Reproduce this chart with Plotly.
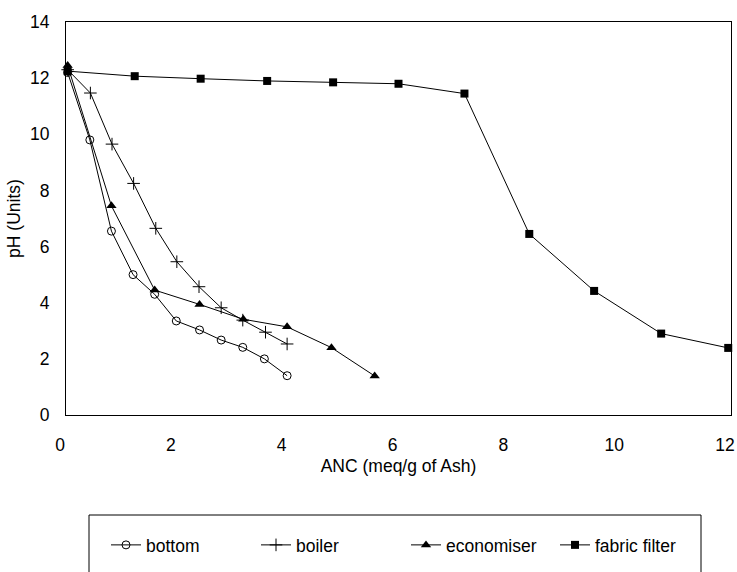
import plotly.graph_objects as go

# ---- data ----
bottom_x = [0.03, 0.43, 0.82, 1.21, 1.60, 1.99, 2.41, 2.80, 3.19, 3.58, 3.99]
bottom_y = [12.2, 9.8, 6.55, 5.0, 4.3, 3.35, 3.03, 2.67, 2.41, 2.0, 1.40]

boiler_x = [0.03, 0.44, 0.83, 1.22, 1.62, 2.00, 2.40, 2.80, 3.19, 3.60, 3.99]
boiler_y = [12.3, 11.47, 9.65, 8.25, 6.65, 5.46, 4.57, 3.82, 3.38, 2.95, 2.53]

econ_x = [0.03, 0.82, 1.60, 2.41, 3.20, 3.99, 4.79, 5.57]
econ_y = [12.45, 7.45, 4.45, 3.94, 3.41, 3.14, 2.40, 1.39]

fabric_x = [0.03, 1.24, 2.43, 3.63, 4.82, 6.00, 7.19, 8.36, 9.53, 10.74, 11.95]
fabric_y = [12.25, 12.07, 11.98, 11.90, 11.85, 11.80, 11.45, 6.45, 4.42, 2.90, 2.39]

x_ticks = [0, 2, 4, 6, 8, 10, 12]
y_ticks = [0, 2, 4, 6, 8, 10, 12, 14]

FONT = "Liberation Sans, Arial, sans-serif"
FS = 17.5
W, H = 737, 572
L, R, T, B = 66, 6, 22, 157
PW, PH = W - L - R, H - T - B


def px_to_paper_x(px):
    return (px - L) / PW


def px_to_paper_y(py):
    return (T + PH - py) / PH


fig = go.Figure()

fig.add_trace(go.Scatter(
    x=bottom_x, y=bottom_y, name="bottom", mode="lines+markers",
    line=dict(color="black", width=1),
    marker=dict(symbol="circle-open", size=8, color="black", line=dict(width=1)),
    legend="legend", cliponaxis=False))
fig.add_trace(go.Scatter(
    x=boiler_x, y=boiler_y, name="boiler", mode="lines+markers",
    line=dict(color="black", width=1),
    marker=dict(symbol="cross-thin", size=9, color="black", line=dict(width=1, color="black")),
    legend="legend2", cliponaxis=False))
fig.add_trace(go.Scatter(
    x=econ_x, y=econ_y, name="economiser", mode="lines+markers",
    line=dict(color="black", width=1),
    marker=dict(symbol="triangle-up", size=9, color="black"),
    legend="legend3", cliponaxis=False))
fig.add_trace(go.Scatter(
    x=fabric_x, y=fabric_y, name="fabric filter", mode="lines+markers",
    line=dict(color="black", width=1),
    marker=dict(symbol="square", size=8, color="black"),
    legend="legend4", cliponaxis=False))

leg_common = dict(orientation="h", xanchor="left", yanchor="middle",
                  bgcolor="rgba(0,0,0,0)", borderwidth=0,
                  font=dict(family=FONT, size=FS, color="black"))
leg_y = px_to_paper_y(545)

fig.update_layout(
    width=W, height=H,
    margin=dict(l=L, r=R, t=T, b=B, autoexpand=False),
    paper_bgcolor="white", plot_bgcolor="white",
    font=dict(family=FONT, size=FS, color="black"),
    showlegend=True,
    legend=dict(x=px_to_paper_x(106), y=leg_y, **leg_common),
    legend2=dict(x=px_to_paper_x(256), y=leg_y, **leg_common),
    legend3=dict(x=px_to_paper_x(406), y=leg_y, **leg_common),
    legend4=dict(x=px_to_paper_x(555), y=leg_y, **leg_common),
    xaxis=dict(range=[0, 12], tickvals=x_ticks, ticktext=[str(v) for v in x_ticks],
               showgrid=False, zeroline=False, showline=True, linecolor="black",
               linewidth=1, mirror=True, ticks="", ticklabelstandoff=14,
               ticklabelshift=-6,
               title=dict(text="ANC (meq/g of Ash)", standoff=5,
                          font=dict(family=FONT, size=FS))),
    yaxis=dict(range=[0, 14], tickvals=y_ticks, ticktext=[str(v) for v in y_ticks],
               showgrid=False, zeroline=False, showline=True, linecolor="black",
               linewidth=1, mirror=True, ticks="", ticklabelstandoff=12,
               title=dict(text="pH (Units)", standoff=4,
                          font=dict(family=FONT, size=FS))),
    shapes=[dict(type="rect", xref="paper", yref="paper",
                 x0=px_to_paper_x(89), x1=px_to_paper_x(701),
                 y0=px_to_paper_y(515), y1=px_to_paper_y(600),
                 line=dict(color="black", width=1), fillcolor="rgba(0,0,0,0)")],
)

fig.write_html(
    "out.html",
    config={"displayModeBar": False},
    post_script="document.body.style.margin='0px';document.body.style.overflow='hidden';",
)
